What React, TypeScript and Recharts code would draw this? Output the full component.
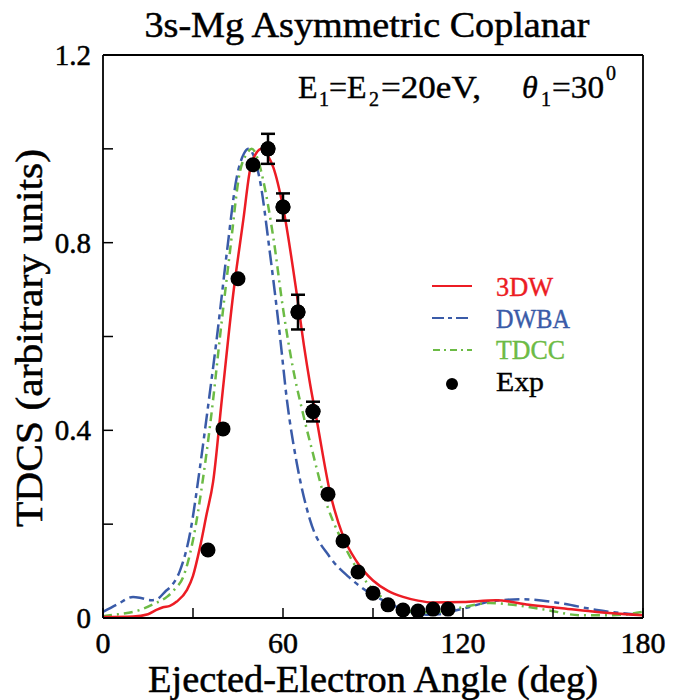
import React from 'react';
import { ComposedChart, Line, Scatter, XAxis, YAxis, ErrorBar } from 'recharts';

const xTicks = [0, 30, 60, 90, 120, 150, 180];
const xLabeled = [0, 60, 120, 180];
const yTicks = [0, 0.2, 0.4, 0.6, 0.8, 1.0, 1.2];
const yLabeled = [0, 0.4, 0.8, 1.2];

// 3DW (solid red)
const angle3DW = [0, 10, 15, 18, 20, 22.3, 24.6, 28, 30, 32.3, 34.5, 36.7, 39.6, 43.4, 46.8, 49, 51, 53, 55, 56.8, 60, 64.6, 67, 69, 71.3, 75.6, 80, 84.6, 90, 95, 100, 105, 110, 120, 131, 142, 153, 164.6, 180];
const tdcs3DW = [0.002, 0.003, 0.008, 0.018, 0.023, 0.026, 0.035, 0.06, 0.09, 0.15, 0.22, 0.29, 0.465, 0.69, 0.85, 0.955, 0.99, 1.0, 0.985, 0.96, 0.876, 0.69, 0.58, 0.5, 0.42, 0.27, 0.175, 0.12, 0.08, 0.058, 0.045, 0.037, 0.033, 0.034, 0.038, 0.028, 0.021, 0.013, 0.006];

// DWBA (blue dashed)
const angleDWBA = [0, 5, 10, 13, 16, 18, 20.7, 23, 25.6, 29, 32.3, 35, 38, 41.3, 44.6, 47, 48.6, 50.5, 52.3, 55.6, 59, 61.3, 64.6, 69, 75.6, 82, 90, 94.6, 100, 105, 108, 112, 116, 120, 131, 140, 153, 164.6, 180];
const tdcsDWBA = [0.013, 0.03, 0.045, 0.042, 0.038, 0.04, 0.056, 0.07, 0.1, 0.18, 0.32, 0.45, 0.6, 0.78, 0.94, 0.99, 1.0, 0.98, 0.933, 0.78, 0.6, 0.465, 0.33, 0.209, 0.13, 0.087, 0.049, 0.034, 0.018, 0.01, 0.007, 0.008, 0.014, 0.02, 0.037, 0.04, 0.031, 0.017, 0.006];

// TDCC (green dash-dot)
const angleTDCC = [0, 5, 12.3, 17, 21.3, 24, 26.7, 30, 33.4, 36.7, 39, 42.3, 45.6, 48, 49.6, 51.5, 53.4, 56.8, 60, 63.4, 66.5, 70, 73.4, 80, 85.6, 91.3, 95, 100, 105, 110, 115, 120, 129, 136.7, 148, 159, 170, 180];
const tdcsTDCC = [0.004, 0.008, 0.017, 0.03, 0.045, 0.062, 0.087, 0.166, 0.3, 0.465, 0.6, 0.78, 0.95, 0.99, 1.0, 0.98, 0.933, 0.81, 0.66, 0.53, 0.44, 0.35, 0.266, 0.16, 0.096, 0.053, 0.035, 0.02, 0.012, 0.012, 0.016, 0.023, 0.032, 0.028, 0.017, 0.006, 0.006, 0.013];

// experiment
const expAngle = [35, 40, 45, 50, 55, 60, 65, 70, 75, 80, 85, 90, 95, 100, 105, 110, 115];
const expTdcs = [0.145, 0.403, 0.723, 0.966, 1.0, 0.876, 0.652, 0.44, 0.264, 0.164, 0.098, 0.053, 0.028, 0.017, 0.015, 0.019, 0.019];
const expError = [0, 0, 0, 0, 0.032, 0.029, 0.037, 0.021, 0, 0, 0, 0, 0, 0, 0, 0, 0];

const RED = '#ec1c24';
const BLUE = '#3a5ba8';
const GREEN = '#6cbb45';
const FONT = "'Liberation Serif', 'DejaVu Serif', serif";

const data3DW = angle3DW.map((x, i) => ({ x, y: tdcs3DW[i] }));
const dataDWBA = angleDWBA.map((x, i) => ({ x, y: tdcsDWBA[i] }));
const dataTDCC = angleTDCC.map((x, i) => ({ x, y: tdcsTDCC[i] }));
const expData = expAngle.map((x, i) => ({ x, y: expTdcs[i], err: expError[i] }));
const errData = expData.filter((d) => d.err > 0);

const TICK_LEN = 10;

const BottomTick = (props: any) => {
  const { x, y, payload } = props;
  return (
    <g>
      <line x1={x} x2={x} y1={y} y2={y - TICK_LEN} stroke="#000" strokeWidth={1.5} />
      {xLabeled.includes(payload.value) && (
        <text x={x} y={y + 35} textAnchor="middle" fontFamily={FONT} fontSize={30} fill="#000" stroke="#000" strokeWidth={0.5}>
          {payload.value}
        </text>
      )}
    </g>
  );
};

const TopTick = (props: any) => {
  const { x, y } = props;
  return <line x1={x} x2={x} y1={y} y2={y + TICK_LEN} stroke="#000" strokeWidth={1.5} />;
};

const LeftTick = (props: any) => {
  const { x, y, payload } = props;
  const v = payload.value;
  const show = yLabeled.some((t) => Math.abs(t - v) < 1e-6);
  return (
    <g>
      <line x1={x} x2={x + TICK_LEN} y1={y} y2={y} stroke="#000" strokeWidth={1.5} />
      {show && (
        <text x={x - 12} y={y + 10} textAnchor="end" fontFamily={FONT} fontSize={29} fill="#000" stroke="#000" strokeWidth={0.5}>
          {v === 0 ? '0' : v.toFixed(1)}
        </text>
      )}
    </g>
  );
};

const RightTick = (props: any) => {
  const { x, y } = props;
  return <line x1={x} x2={x - TICK_LEN} y1={y} y2={y} stroke="#000" strokeWidth={1.5} />;
};

const Dot = (props: any) => {
  const { cx, cy } = props;
  return <circle cx={cx} cy={cy} r={7.5} fill="#000" />;
};

const Overlay = () => (
  <svg width={687} height={700} style={{ position: 'absolute', left: 0, top: 0, pointerEvents: 'none' }}>
    <g stroke="#000" strokeWidth={0.5}>
      <text x={367} y={37} textAnchor="middle" fontFamily={FONT} fontSize={36} textLength={445} lengthAdjust="spacingAndGlyphs">
        3s-Mg Asymmetric Coplanar
      </text>
      <text x={373} y={692} textAnchor="middle" fontFamily={FONT} fontSize={38} textLength={450} lengthAdjust="spacingAndGlyphs">
        Ejected-Electron Angle (deg)
      </text>
      <text x={0} y={0} transform="translate(42,338) rotate(-90)" textAnchor="middle" fontFamily={FONT} fontSize={38} textLength={378} lengthAdjust="spacingAndGlyphs">
        TDCS (arbitrary units)
      </text>
    </g>

    {/* E1=E2=20eV, theta1=30^0 */}
    <g fontFamily={FONT} fill="#000" stroke="#000" strokeWidth={0.4}>
      <text x={298} y={98} fontSize={32}>E</text>
      <text x={319} y={106} fontSize={20}>1</text>
      <text x={329} y={98} fontSize={32}>=E</text>
      <text x={369} y={106} fontSize={20}>2</text>
      <text x={381} y={98} fontSize={32} textLength={100} lengthAdjust="spacingAndGlyphs">=20eV,</text>
      <text x={522} y={98} fontSize={32} fontStyle="italic">θ</text>
      <text x={541} y={106} fontSize={20}>1</text>
      <text x={552} y={98} fontSize={32} textLength={52} lengthAdjust="spacingAndGlyphs">=30</text>
      <text x={606} y={80} fontSize={20}>0</text>
    </g>

    {/* legend */}
    <g fontFamily={FONT} fontSize={27}>
      <line x1={432} x2={472} y1={286} y2={286} stroke={RED} strokeWidth={2} />
      <text x={496} y={296} fill={RED} stroke={RED} strokeWidth={0.4} textLength={57} lengthAdjust="spacingAndGlyphs">3DW</text>
      <line x1={432} x2={472} y1={318} y2={318} stroke={BLUE} strokeWidth={2} strokeDasharray="12 4 4 4" />
      <text x={496} y={328} fill={BLUE} stroke={BLUE} strokeWidth={0.4} textLength={74} lengthAdjust="spacingAndGlyphs">DWBA</text>
      <line x1={433} x2={472} y1={350} y2={350} stroke={GREEN} strokeWidth={2} strokeDasharray="7 4 2 4" />
      <text x={496} y={359} fill={GREEN} stroke={GREEN} strokeWidth={0.4} textLength={69} lengthAdjust="spacingAndGlyphs">TDCC</text>
      <circle cx={452} cy={384} r={6} fill="#000" />
      <text x={496} y={391} fill="#000" stroke="#000" strokeWidth={0.4} textLength={48} lengthAdjust="spacingAndGlyphs">Exp</text>
    </g>
  </svg>
);

export default function App() {
  return (
    <div style={{ position: 'absolute', left: 0, top: 0, width: 687, height: 700, background: '#fff' }}>
      <ComposedChart width={687} height={700} margin={{ top: 25, right: 14, bottom: 52, left: 43 }}>
        <XAxis
          dataKey="x"
          type="number"
          domain={[0, 180]}
          ticks={xTicks}
          interval={0}
          height={30}
          tickSize={0}
          tickMargin={0}
          tickLine={false}
          axisLine={{ stroke: '#000', strokeWidth: 1.8 }}
          tick={<BottomTick />}
        />
        <XAxis
          xAxisId="top"
          orientation="top"
          dataKey="x"
          type="number"
          domain={[0, 180]}
          ticks={xTicks}
          interval={0}
          height={30}
          tickSize={0}
          tickMargin={0}
          tickLine={false}
          axisLine={{ stroke: '#000', strokeWidth: 1.8 }}
          tick={<TopTick />}
        />
        <YAxis
          type="number"
          domain={[0, 1.2]}
          ticks={yTicks}
          interval={0}
          width={60}
          tickSize={0}
          tickMargin={0}
          tickLine={false}
          axisLine={{ stroke: '#000', strokeWidth: 1.8 }}
          tick={<LeftTick />}
        />
        <YAxis
          yAxisId="right"
          orientation="right"
          type="number"
          domain={[0, 1.2]}
          ticks={yTicks}
          interval={0}
          width={30}
          tickSize={0}
          tickMargin={0}
          tickLine={false}
          axisLine={{ stroke: '#000', strokeWidth: 1.8 }}
          tick={<RightTick />}
        />
        <Line data={dataDWBA} dataKey="y" type="monotone" stroke={BLUE} strokeWidth={2.5} strokeDasharray="15 5 5 5" dot={false} isAnimationActive={false} />
        <Line data={dataTDCC} dataKey="y" type="monotone" stroke={GREEN} strokeWidth={2.5} strokeDasharray="9 5 2 5" dot={false} isAnimationActive={false} />
        <Line data={data3DW} dataKey="y" type="monotone" stroke={RED} strokeWidth={2.5} dot={false} isAnimationActive={false} />
        <Scatter data={errData} dataKey="y" shape={<Dot />} isAnimationActive={false}>
          <ErrorBar dataKey="err" direction="y" width={7} stroke="#000" strokeWidth={2.5} />
        </Scatter>
        <Scatter data={expData} dataKey="y" shape={<Dot />} isAnimationActive={false} />
      </ComposedChart>
      <Overlay />
    </div>
  );
}
